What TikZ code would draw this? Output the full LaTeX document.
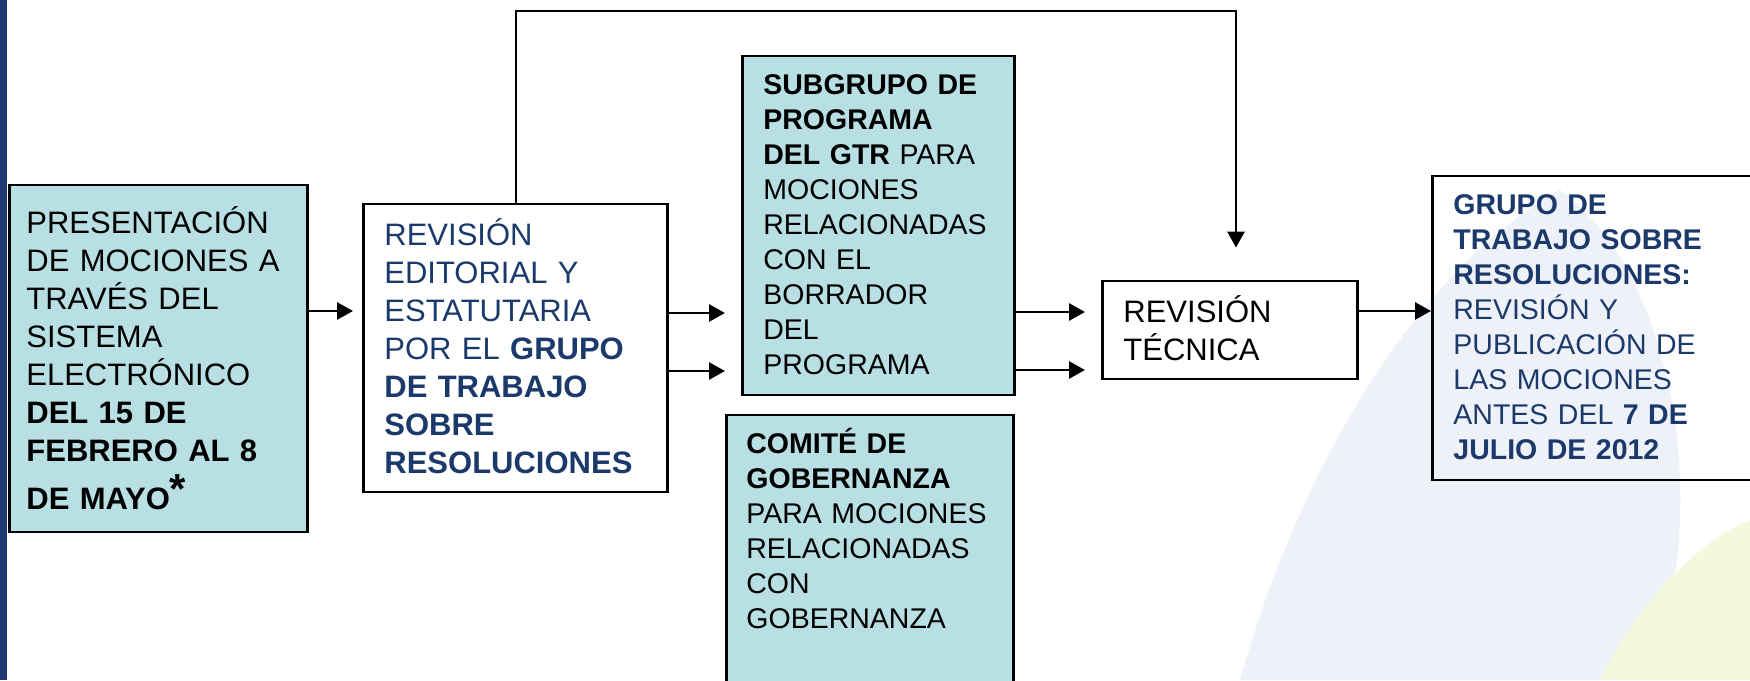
\documentclass[tikz,border=0pt]{standalone}
\usepackage{fontspec}
\setmainfont{Liberation Sans}
\usetikzlibrary{arrows.meta}
\definecolor{boxfill}{HTML}{B8DFE3}
\definecolor{navy}{HTML}{1B3A6B}
\definecolor{barcol}{HTML}{1E3C72}
\definecolor{wmblue}{HTML}{EEF2F8}
\definecolor{wmgreen}{HTML}{F4F9DE}
\begin{document}
\begin{tikzpicture}[x=0.5pt,y=-0.5pt,
  box/.style={draw=black, line width=1.4pt, rectangle, anchor=base west, inner ysep=0pt, align=left},
  big/.style={font=\fontsize{15.5pt}{19pt}\selectfont},
  small/.style={font=\fontsize{14.25pt}{17.5pt}\selectfont},
  arr/.style={line width=1.4pt, -{Triangle[length=8pt,width=8.5pt]}},
]
\useasboundingbox (0,0) rectangle (1750,680);
\clip (0,0) rectangle (1750,680);
\fill[white] (0,0) rectangle (1750,680);
% faint watermark
\fill[wmblue] (1240,680) .. controls (1290,500) and (1400,280) .. (1560,190)
  .. controls (1660,260) and (1720,480) .. (1650,680) -- cycle;
\fill[wmgreen] (1600,680) .. controls (1640,600) and (1700,540) .. (1750,520) -- (1750,680) -- cycle;
% left bar
\fill[barcol] (0,0) rectangle (7,680);

% boxes
\node[box, big, fill=boxfill, inner xsep=8.5pt, text width=132pt, text height=24pt, text depth=149.5pt] (b1) at (8,233)
 {PRESENTACIÓN\\DE MOCIONES A\\TRAVÉS DEL\\SISTEMA\\ELECTRÓNICO\\\textbf{DEL 15 DE}\\\textbf{FEBRERO AL 8}\\[5pt]\textbf{DE MAYO}\raisebox{3pt}{\fontsize{21pt}{21pt}\selectfont\textbf{*}}};
\node[box, big, text=navy, inner xsep=10.5pt, text width=131pt, text height=20.5pt, text depth=123.5pt] (b2) at (362,245)
 {REVISIÓN\\EDITORIAL Y\\ESTATUTARIA\\POR EL \textbf{GRUPO}\\\textbf{DE TRABAJO}\\\textbf{SOBRE}\\\textbf{RESOLUCIONES}};
\node[box, small, fill=boxfill, inner xsep=10.5pt, text width=115pt, text height=19pt, text depth=150.5pt] (b3) at (741,94)
 {\textbf{SUBGRUPO DE}\\\textbf{PROGRAMA}\\\textbf{DEL GTR} PARA\\MOCIONES\\RELACIONADAS\\CON EL\\BORRADOR\\DEL\\PROGRAMA};
\node[box, small, fill=boxfill, inner xsep=10pt, text width=123.5pt, text height=19pt, text depth=118.5pt] (b4) at (725,453)
 {\textbf{COMITÉ DE}\\\textbf{GOBERNANZA}\\PARA MOCIONES\\RELACIONADAS\\CON\\GOBERNANZA};
\node[box, big, inner xsep=10.5pt, text width=106.5pt, text height=20.5pt, text depth=28.5pt] (b5) at (1101,322)
 {REVISIÓN\\TÉCNICA};
\node[box, small, text=navy, inner xsep=10.5pt, text width=143.5pt, text height=19pt, text depth=133pt] (b6) at (1431,214)
 {\textbf{GRUPO DE}\\\textbf{TRABAJO SOBRE}\\\textbf{RESOLUCIONES:}\\REVISIÓN Y\\PUBLICACIÓN DE\\LAS MOCIONES\\ANTES DEL \textbf{7 DE}\\\textbf{JULIO DE 2012}};

% helper coordinates
\coordinate (r11) at (0,11);
\coordinate (r311) at (0,311);
\coordinate (r312) at (0,312);
\coordinate (r313) at (0,313);
\coordinate (r370) at (0,370);
\coordinate (r371) at (0,371);
\coordinate (c516) at (516,0);
\coordinate (c1236) at (1236,0);

% connectors
\draw[arr, shorten >=4.5pt] (b1.east |- r311) -- (b2.west |- r311);
\draw[arr, shorten >=8pt] (b2.east |- r313) -- (b3.west |- r313);
\draw[arr, shorten >=8pt] (b2.east |- r371) -- (b3.west |- r371);
\draw[arr, shorten >=8pt] (b3.east |- r312) -- (b5.west |- r312);
\draw[arr, shorten >=8pt] (b3.east |- r370) -- (b5.west |- r370);
\draw[arr] (b5.east |- r311) -- (b6.west |- r311);
\draw[arr, shorten >=16pt] (b2.north -| c516) -- (c516 |- r11) -| (b5.north -| c1236);
\end{tikzpicture}
\end{document}
